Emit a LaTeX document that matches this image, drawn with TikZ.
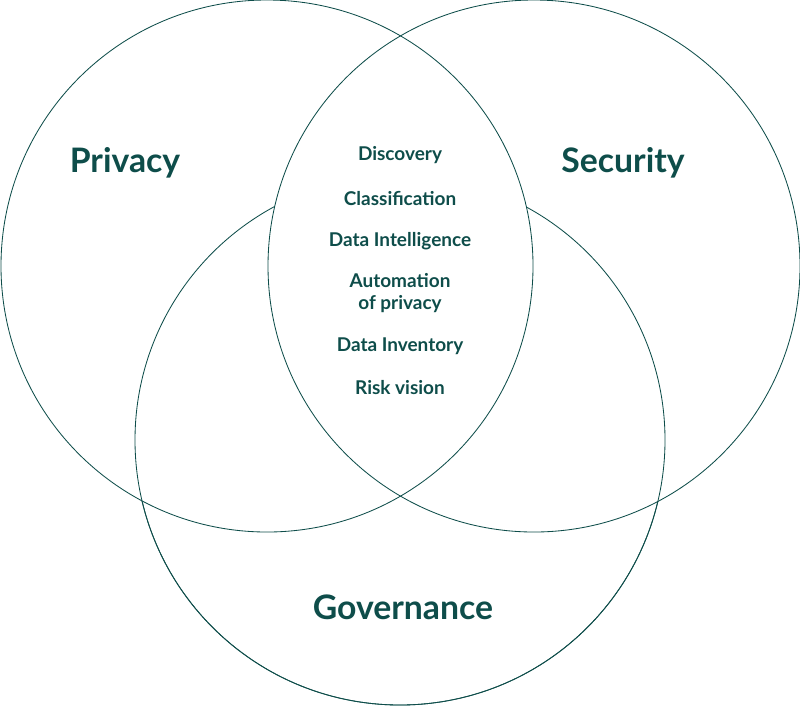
\documentclass[tikz,border=0pt]{standalone}
\usepackage{fontspec}
\setmainfont{Lato}
\definecolor{teal}{HTML}{0E4D4A}
\begin{document}
\begin{tikzpicture}[x=0.025cm,y=-0.025cm,
    ring/.style={draw=teal, line width=0.6pt},
    big/.style={text=teal, font=\fontsize{24}{28}\selectfont\bfseries},
    item/.style={text=teal, font=\fontsize{13.5}{15}\selectfont\bfseries, align=center}]
    % Quadro
    \useasboundingbox (0,0) rectangle (800,706);
    
    % Circulos
    \draw[ring] (267,266) circle (266);
    \draw[ring] (534,266) circle (266);
    % circulo de baixo, sem o arco dentro da lente central
    \begin{scope}[even odd rule]
        \clip (-10,-10) rectangle (810,720) (267,266) circle (266);
        \draw[ring] (400,440) circle (265);
    \end{scope}
    \begin{scope}[even odd rule]
        \clip (-10,-10) rectangle (810,720) (534,266) circle (266);
        \draw[ring] (400,440) circle (265);
    \end{scope}
    
    % Titulos
    \node[big] (privacy) at (125,163) {Privacy};
    \node[big] (security) at (623,163) {Security};
    \node[big] (governance) at (403,607) {Governance};
    
    % Itens centrais
    \node[item] (disc) at (400,155) {Discovery};
    \node[item] (class) at (400,198) {Classification};
    \node[item] (intel) at (400,241) {Data Intelligence};
    \node[item] (auto) at (400,293) {Automation\\of privacy};
    \node[item] (inv) at (400,346) {Data Inventory};
    \node[item] (risk) at (400,388) {Risk vision};
\end{tikzpicture}
\end{document}
